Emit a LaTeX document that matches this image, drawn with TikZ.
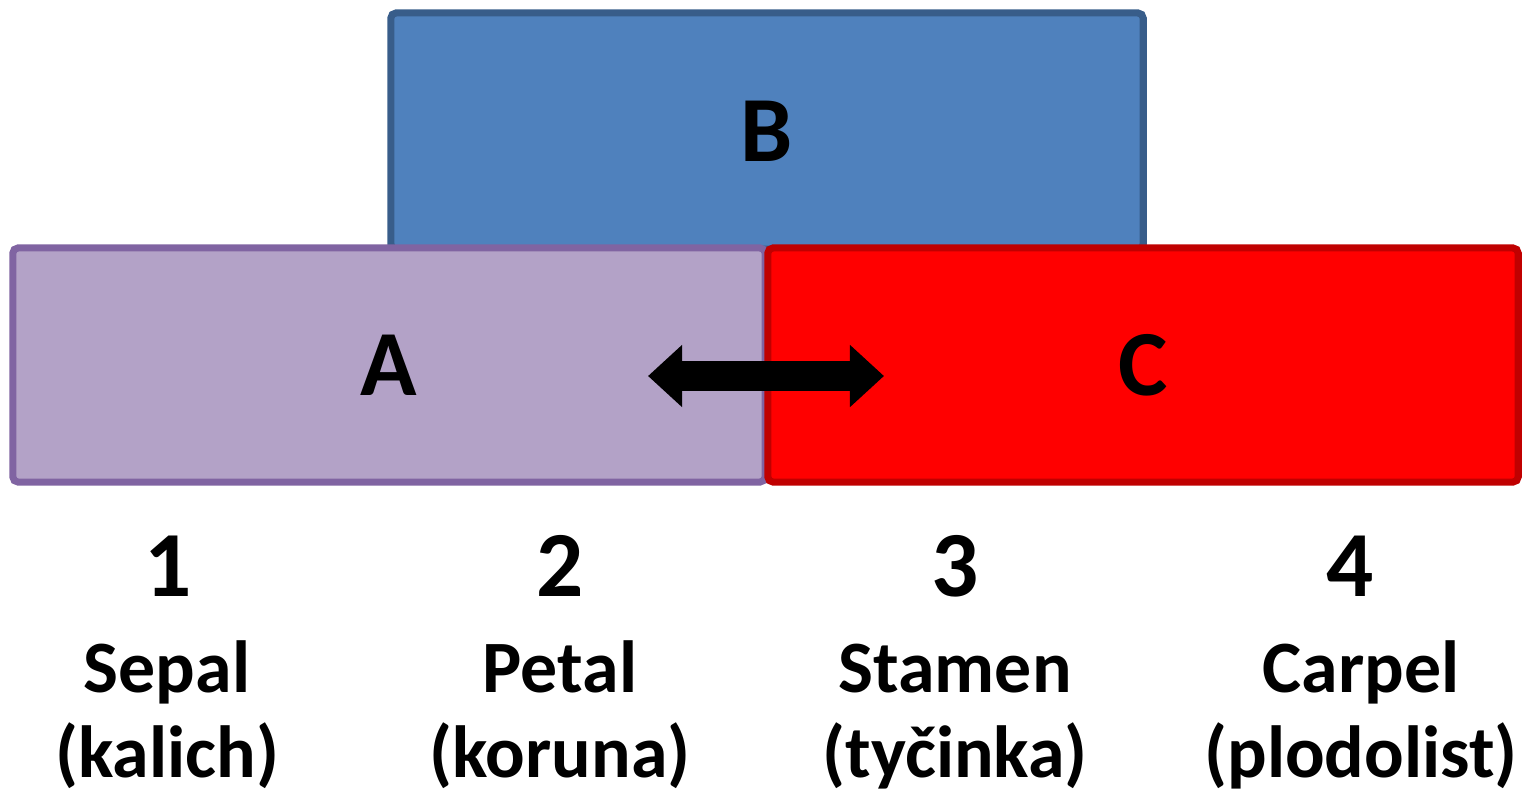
\documentclass[tikz,border=0pt]{standalone}
\usepackage{fontspec}
\setmainfont{Carlito}
\usetikzlibrary{arrows.meta,positioning}
\definecolor{bfill}{RGB}{79,129,189}
\definecolor{bline}{RGB}{56,93,138}
\definecolor{afill}{RGB}{179,162,199}
\definecolor{aline}{RGB}{128,100,162}
\definecolor{cfill}{RGB}{255,0,0}
\definecolor{cline}{RGB}{192,0,0}

\begin{document}
\begin{tikzpicture}[
    x=0.01cm, y=-0.01cm,
    gene/.style={rectangle, line width=2pt, rounded corners=1.5pt, inner sep=0pt,
        font=\fontsize{26.5}{30}\selectfont\bfseries},
    num/.style={font=\fontsize{26.5}{30}\selectfont\bfseries, inner sep=0pt},
    organ/.style={font=\fontsize{21}{23.9}\selectfont\bfseries, align=center, inner sep=0pt},
    dblarrow/.style={line width=0.3cm,
        {Triangle[length=0.34cm,width=0.6cm]}-{Triangle[length=0.34cm,width=0.6cm]}}
]
    \useasboundingbox (0,0) rectangle (1522,796);

    % ABC classes
    \node[gene, fill=bfill, draw=bline, minimum width=7.52cm, minimum height=2.36cm] (B) at (767,131) {B};
    \node[gene, fill=afill, draw=aline, minimum width=7.52cm, minimum height=2.34cm] (A) at (389,365) {A};
    \node[gene, fill=cfill, draw=cline, minimum width=7.50cm, minimum height=2.34cm] (C) at (1143,365) {C};

    \coordinate (al) at (648,376);
    \coordinate (ar) at (884,376);
    \draw[dblarrow] (al) -- (ar);

    % whorls
    \node[num] (n1) at (168,566) {1};
    \node[num] (n2) at (560,566) {2};
    \node[num] (n3) at (955,566) {3};
    \node[num] (n4) at (1350,566) {4};

    \node[organ, anchor=base] (o1) at (167,777) {Sepal\\(kalich)};
    \node[organ, anchor=base] (o2) at (560,777) {Petal\\(koruna)};
    \node[organ, anchor=base] (o3) at (955,777) {Stamen\\(tyčinka)};
    \node[organ, anchor=base] (o4) at (1361,777) {Carpel\\(plodolist)};
\end{tikzpicture}
\end{document}
